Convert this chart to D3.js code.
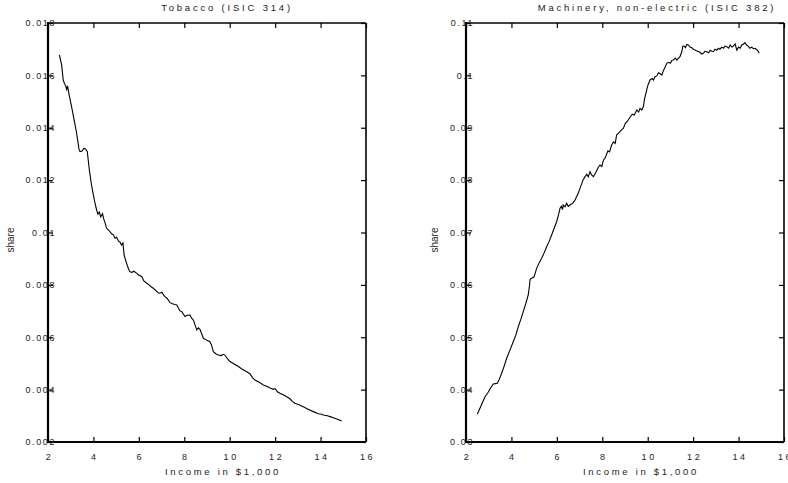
<!DOCTYPE html>
<html>
<head>
<meta charset="utf-8">
<script src="https://cdn.jsdelivr.net/npm/d3@7"></script>
<style>
  html, body { margin: 0; padding: 0; background: #fff; }
  svg { display: block; }
  text { font-family: "Liberation Sans", Arial, sans-serif; fill: #222; }
</style>
</head>
<body>
<svg id="chart" width="788" height="483"></svg>
<script>
// ---------- DATA ----------
const xTicks = [2, 4, 6, 8, 10, 12, 14, 16];
const xTickLabels = ["2", "4", "6", "8", "10", "12", "14", "16"];
const xAxisTitle = "Income in $1,000";
const yAxisTitle = "share";

const tobaccoTitle = "Tobacco (ISIC 314)";
const tobaccoYTicks = [0.002, 0.004, 0.006, 0.008, 0.010, 0.012, 0.014, 0.016, 0.018];
const tobaccoYTickLabels = ["0.002", "0.004", "0.006", "0.008", "0.01", "0.012", "0.014", "0.016", "0.018"];
const tobaccoIncome = [2.50,2.60,2.67,2.72,2.78,2.82,2.86,2.92,3.04,3.15,3.26,3.36,3.41,3.50,3.58,3.66,3.73,3.82,3.90,3.97,
  4.05,4.14,4.20,4.26,4.32,4.40,4.46,4.52,4.58,4.66,4.74,4.80,4.88,4.95,5.02,5.10,5.18,5.24,5.30,5.35,
  5.45,5.55,5.61,5.70,5.78,5.91,6.00,6.13,6.22,6.35,6.45,6.55,6.64,6.75,6.85,6.93,7.02,7.10,7.15,7.25,
  7.37,7.48,7.58,7.67,7.75,7.81,7.89,8.03,8.12,8.25,8.33,8.40,8.55,8.62,8.69,8.84,8.95,9.13,9.20,9.28,
  9.40,9.50,9.62,9.72,9.79,9.90,10.01,10.20,10.38,10.55,10.75,10.90,11.00,11.11,11.30,11.48,11.70,11.80,11.92,12.00,
  12.10,12.21,12.35,12.51,12.65,12.75,12.87,13.05,13.24,13.45,13.68,13.90,14.05,14.12,14.30,14.45,14.56,14.75,14.93];
const tobaccoShare = [0.01678,0.01640,0.01582,0.01570,0.01560,0.01547,0.01560,0.01530,0.01480,0.01430,0.01379,0.01320,0.01309,0.01311,0.01322,0.01318,0.01309,0.01239,0.01190,0.01156,
  0.01120,0.01086,0.01070,0.01078,0.01060,0.01072,0.01050,0.01035,0.01016,0.01010,0.01002,0.00995,0.00991,0.00978,0.00982,0.00968,0.00962,0.00952,0.00960,0.00914,
  0.00885,0.00860,0.00850,0.00848,0.00852,0.00844,0.00838,0.00831,0.00815,0.00806,0.00800,0.00792,0.00787,0.00778,0.00770,0.00768,0.00772,0.00760,0.00755,0.00748,
  0.00732,0.00728,0.00725,0.00723,0.00710,0.00701,0.00698,0.00679,0.00684,0.00685,0.00672,0.00666,0.00628,0.00636,0.00630,0.00596,0.00590,0.00583,0.00570,0.00545,
  0.00536,0.00532,0.00530,0.00535,0.00532,0.00518,0.00507,0.00498,0.00488,0.00478,0.00468,0.00460,0.00446,0.00437,0.00428,0.00418,0.00410,0.00405,0.00401,0.00404,
  0.00392,0.00386,0.00380,0.00373,0.00365,0.00355,0.00348,0.00342,0.00335,0.00325,0.00316,0.00308,0.00306,0.00303,0.00300,0.00296,0.00293,0.00287,0.00280];

const machineryTitle = "Machinery, non-electric (ISIC 382)";
const machineryYTicks = [0.03, 0.04, 0.05, 0.06, 0.07, 0.08, 0.09, 0.10, 0.11];
const machineryYTickLabels = ["0.03", "0.04", "0.05", "0.06", "0.07", "0.08", "0.09", "0.1", "0.11"];
const machineryIncome = [2.50,2.62,2.73,2.84,2.95,3.08,3.20,3.30,3.38,3.47,3.57,3.68,3.79,3.92,4.08,4.20,4.30,4.42,4.52,4.63,
  4.74,4.80,4.82,4.90,4.99,5.05,5.11,5.22,5.33,5.45,5.55,5.66,5.77,5.88,5.99,6.08,6.14,6.20,6.25,6.28,
  6.36,6.43,6.50,6.58,6.70,6.80,6.94,7.05,7.15,7.24,7.32,7.38,7.46,7.53,7.61,7.72,7.82,7.90,7.98,8.05,
  8.12,8.25,8.32,8.41,8.50,8.57,8.63,8.75,8.85,8.93,9.02,9.10,9.22,9.32,9.40,9.52,9.60,9.66,9.74,9.81,
  9.86,9.92,10.00,10.10,10.20,10.25,10.32,10.40,10.47,10.55,10.62,10.70,10.77,10.84,10.92,11.00,11.07,11.13,11.22,11.28,
  11.35,11.42,11.50,11.55,11.60,11.66,11.72,11.79,11.86,11.94,12.01,12.10,12.20,12.30,12.38,12.45,12.52,12.60,12.68,12.75,
  12.82,12.89,12.96,13.04,13.11,13.18,13.26,13.34,13.40,13.48,13.56,13.63,13.70,13.77,13.85,13.92,14.00,14.07,14.14,14.22,
  14.28,14.35,14.42,14.50,14.58,14.65,14.72,14.80,14.86,14.91];
const machineryShare = [0.03535,0.03650,0.03760,0.03865,0.03930,0.04030,0.04107,0.04115,0.04121,0.04200,0.04312,0.04450,0.04598,0.04740,0.04915,0.05050,0.05201,0.05350,0.05488,0.05640,
  0.05807,0.06000,0.06107,0.06130,0.06145,0.06230,0.06316,0.06420,0.06508,0.06620,0.06729,0.06830,0.06952,0.07080,0.07206,0.07350,0.07462,0.07500,0.07440,0.07525,
  0.07490,0.07557,0.07500,0.07525,0.07560,0.07621,0.07748,0.07880,0.08000,0.08066,0.08110,0.08060,0.08161,0.08100,0.08066,0.08150,0.08240,0.08289,0.08260,0.08380,
  0.08417,0.08560,0.08540,0.08671,0.08730,0.08700,0.08862,0.08910,0.08960,0.08990,0.09090,0.09120,0.09200,0.09260,0.09240,0.09339,0.09300,0.09370,0.09339,0.09402,
  0.09550,0.09658,0.09800,0.09912,0.09940,0.09910,0.09975,0.09990,0.10051,0.10030,0.10007,0.10100,0.10160,0.10230,0.10250,0.10230,0.10290,0.10294,0.10330,0.10290,
  0.10326,0.10357,0.10450,0.10560,0.10561,0.10530,0.10590,0.10580,0.10540,0.10530,0.10498,0.10480,0.10460,0.10440,0.10408,0.10420,0.10460,0.10452,0.10430,0.10480,
  0.10460,0.10452,0.10500,0.10480,0.10517,0.10500,0.10540,0.10520,0.10560,0.10548,0.10520,0.10580,0.10540,0.10561,0.10600,0.10484,0.10540,0.10520,0.10580,0.10600,
  0.10624,0.10580,0.10560,0.10517,0.10540,0.10510,0.10517,0.10490,0.10460,0.10421];

// ---------- DRAW ----------
const svg = d3.select("#chart");

const panels = [
  { left: 48, title: tobaccoTitle, titleX: 227, xLabelX: 223, yLabelX: 14,
    income: tobaccoIncome, share: tobaccoShare,
    yTicks: tobaccoYTicks, yTickLabels: tobaccoYTickLabels, yDomain: [0.002, 0.018] },
  { left: 466, title: machineryTitle, titleX: 657, xLabelX: 641, yLabelX: 438,
    income: machineryIncome, share: machineryShare,
    yTicks: machineryYTicks, yTickLabels: machineryYTickLabels, yDomain: [0.03, 0.11] }
];

const plotW = 318, plotTop = 23, plotBottom = 442, tickLen = 5;

panels.forEach(p => {
  const x = d3.scaleLinear().domain([2, 16]).range([p.left, p.left + plotW]);
  const y = d3.scaleLinear().domain(p.yDomain).range([plotBottom, plotTop]);
  const g = svg.append("g");

  // inward ticks on all four sides
  const xAxisB = d3.axisTop(x).tickValues(xTicks).tickSize(tickLen).tickFormat("");
  const xAxisT = d3.axisBottom(x).tickValues(xTicks).tickSize(tickLen).tickFormat("");
  const yAxisL = d3.axisRight(y).tickValues(p.yTicks).tickSize(tickLen).tickFormat("");
  const yAxisR = d3.axisLeft(y).tickValues(p.yTicks).tickSize(tickLen).tickFormat("");

  [[xAxisB, `translate(0,${plotBottom})`], [xAxisT, `translate(0,${plotTop})`],
   [yAxisL, `translate(${p.left},0)`], [yAxisR, `translate(${p.left + plotW},0)`]].forEach(([ax, tr]) => {
    const a = g.append("g").attr("transform", tr).call(ax);
    a.select(".domain").remove();
    a.selectAll(".tick line").attr("stroke", "#000").attr("stroke-width", 1.2);
  });

  // frame
  g.append("line").attr("x1", p.left).attr("x2", p.left + plotW).attr("y1", plotTop).attr("y2", plotTop)
    .attr("stroke", "#000").attr("stroke-width", 1.6);
  g.append("line").attr("x1", p.left + plotW).attr("x2", p.left + plotW).attr("y1", plotTop).attr("y2", plotBottom)
    .attr("stroke", "#000").attr("stroke-width", 1.6);
  g.append("line").attr("x1", p.left).attr("x2", p.left + plotW).attr("y1", plotBottom).attr("y2", plotBottom)
    .attr("stroke", "#000").attr("stroke-width", 2.2);
  g.append("line").attr("x1", p.left).attr("x2", p.left).attr("y1", plotTop - 1).attr("y2", plotBottom + 1)
    .attr("stroke", "#000").attr("stroke-width", 2.2);

  // x tick labels
  g.selectAll(".xl").data(xTicks).enter().append("text")
    .attr("x", d => x(d) + 1.5)
    .attr("y", 460)
    .attr("text-anchor", "middle")
    .style("font-size", "9px").style("letter-spacing", "2.6px")
    .text((d, i) => xTickLabels[i]);

  // y tick labels (last digit sits on the axis, as in the reference)
  g.selectAll(".yl").data(p.yTicks).enter().append("text")
    .attr("x", p.left + 8)
    .attr("y", d => y(d) + 3.3)
    .attr("text-anchor", "end")
    .style("font-size", "9px").style("letter-spacing", "1.6px")
    .text((d, i) => p.yTickLabels[i]);

  // titles
  g.append("text").attr("x", p.titleX).attr("y", 11).attr("text-anchor", "middle")
    .style("font-size", "9.5px").style("letter-spacing", "2.8px").text(p.title);
  g.append("text").attr("x", p.xLabelX).attr("y", 475).attr("text-anchor", "middle")
    .style("font-size", "9.5px").style("letter-spacing", "2.7px").text(xAxisTitle);
  g.append("text").attr("transform", `translate(${p.yLabelX},240) rotate(-90)`)
    .attr("text-anchor", "middle").style("font-size", "10px").text(yAxisTitle);

  // series line
  const pts = p.income.map((v, i) => [v, p.share[i]]);
  g.append("path").datum(pts)
    .attr("fill", "none").attr("stroke", "#000").attr("stroke-width", 1.1)
    .attr("d", d3.line().x(d => x(d[0])).y(d => y(d[1])));
});
</script>
</body>
</html>
